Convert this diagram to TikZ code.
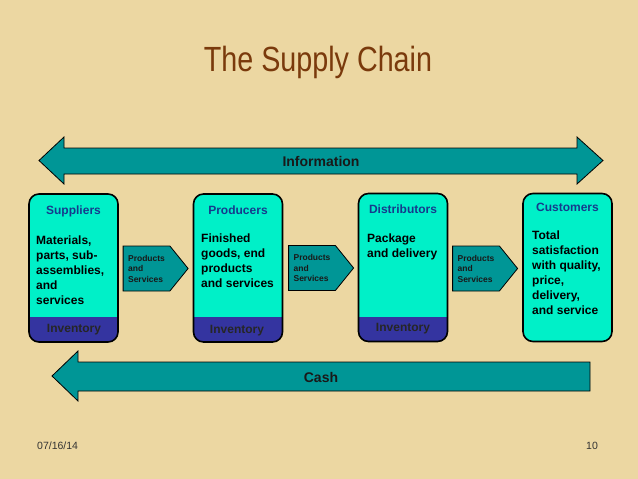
\documentclass[tikz,border=0pt]{standalone}
\usepackage{fontspec}
\setmainfont{Liberation Sans}
\newfontfamily\titlefont[FakeStretch=0.82]{Liberation Sans}
\usepackage{xcolor}
\usepackage{tikz}
\usetikzlibrary{shapes.symbols}

\definecolor{parchment}{RGB}{236,215,162}
\definecolor{aquabox}{RGB}{0,240,200}
\definecolor{tealarrow}{RGB}{0,150,150}
\definecolor{invband}{RGB}{52,52,160}
\definecolor{headblue}{RGB}{22,58,140}
\definecolor{titlebrown}{RGB}{122,58,12}

\tikzset{
  stage/.style={draw=black,line width=1.6pt,rounded corners=10pt,fill=aquabox,
    minimum width=89pt,minimum height=148pt,inner sep=0pt},
  stock/.style={stage,path picture={\fill[invband,sharp corners]
    (path picture bounding box.south west) rectangle
    ([yshift=25pt]path picture bounding box.south east);}},
  stagehead/.style={font=\fontsize{12}{14}\selectfont\bfseries,text=headblue,inner sep=0pt},
  stagebody/.style={font=\fontsize{12}{15}\selectfont\bfseries,align=left,anchor=north west,inner sep=0pt},
  stocktext/.style={font=\fontsize{12}{14}\selectfont\bfseries,text=black!85,inner sep=0pt},
  flow/.style={signal,signal to=east,signal pointer angle=102,draw=black,line width=0.8pt,fill=tealarrow,
    minimum width=65pt,minimum height=45pt,inner sep=0pt,
    font=\fontsize{8.5}{10.5}\selectfont\bfseries,align=left,text=black!90},
  bigarrow/.style={draw=black,line width=0.8pt,fill=tealarrow},
  arrowtext/.style={font=\fontsize{14}{16}\selectfont\bfseries,text=black!90,inner sep=0pt}
}

\begin{document}
\begin{tikzpicture}[x=1pt,y=-1pt,line join=miter]
  \fill[parchment] (0,0) rectangle (638,479);
  \useasboundingbox (0,0) rectangle (638,479);

  \node[font=\titlefont\fontsize{35}{40}\selectfont,text=titlebrown,inner sep=0pt] (title) at (318,62) {The Supply Chain};

  % information arrow (both ways)
  \coordinate (infoL) at (39,160.5);
  \coordinate (infoR) at (603,160.5);
  \draw[bigarrow] (infoL) -- (64,137) -- (64,148) -- (577,148) -- (577,137) -- (infoR)
    -- (577,184) -- (577,174) -- (64,174) -- (64,184) -- cycle;
  \node[arrowtext] (info) at (321,161) {Information};

  % the four stages
  \node[stock] (suppliers) at (73.5,268) {};
  \node[stock] (producers) at (238,268) {};
  \node[stock] (distributors) at (403,267.5) {};
  \node[stage] (customers) at (567.5,267.5) {};

  \node[stagehead] (supH) at (73.5,211) {Suppliers};
  \node[stagehead] (proH) at (238,210) {Producers};
  \node[stagehead] (disH) at (403,209) {Distributors};
  \node[stagehead] (cusH) at (567.5,207) {Customers};

  \node[stagebody] (supB) at (36,235.5) {Materials,\\parts, sub-\\assemblies,\\and\\services};
  \node[stagebody] (proB) at (201,233.5) {Finished\\goods, end\\products\\and services};
  \node[stagebody] (disB) at (367,233.5) {Package\\and delivery};
  \node[stagebody] (cusB) at (532,230.5) {Total\\satisfaction\\with quality,\\price,\\delivery,\\and service};

  \node[stocktext] (supI) at (74,330) {Inventory};
  \node[stocktext] (proI) at (237,331) {Inventory};
  \node[stocktext] (disI) at (403,329) {Inventory};

  % products and services between the stages
  \node[flow] (flow1) at (146.5,268.5) {Products\\and\\Services};
  \node[flow] (flow2) at (312,268) {Products\\and\\Services};
  \node[flow] (flow3) at (476,268.5) {Products\\and\\Services};

  % cash arrow
  \coordinate (cashL) at (52,376);
  \draw[bigarrow] (cashL) -- (78,351) -- (78,362) -- (590,362) -- (590,391)
    -- (78,391) -- (78,401) -- cycle;
  \node[arrowtext] (cash) at (321,377) {Cash};

  \node[font=\fontsize{10.5}{12}\selectfont,text=black!80,anchor=west,inner sep=0pt] (date) at (37,446) {07/16/14};
  \node[font=\fontsize{10.5}{12}\selectfont,text=black!80,inner sep=0pt] (page) at (592,446) {10};
\end{tikzpicture}
\end{document}
